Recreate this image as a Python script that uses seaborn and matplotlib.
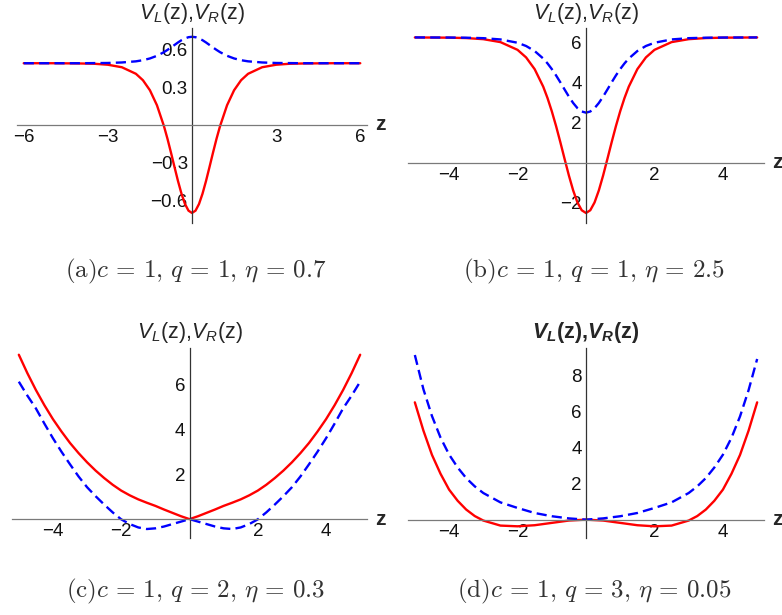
import matplotlib
matplotlib.use("Agg")
import seaborn as sns
import matplotlib.pyplot as plt
from matplotlib.transforms import blended_transform_factory

# ---- panel (a): c=1, q=1, eta=0.7 ----
z_a = [-6, -5, -4, -3.5, -3, -2.5, -2, -1.75, -1.5, -1.25, -1, -0.875, -0.75, -0.625, -0.5, -0.375, -0.25, -0.125,
       0, 0.125, 0.25, 0.375, 0.5, 0.625, 0.75, 0.875, 1, 1.25, 1.5, 1.75, 2, 2.5, 3, 3.5, 4, 5, 6]
vl_a = [0.490, 0.490, 0.488, 0.486, 0.478, 0.458, 0.406, 0.355, 0.275, 0.156, -0.010, -0.110, -0.220, -0.334, -0.446,
        -0.547, -0.629, -0.682, -0.700, -0.682, -0.629, -0.547, -0.446, -0.334, -0.220, -0.110, -0.010, 0.156, 0.275,
        0.355, 0.406, 0.458, 0.478, 0.486, 0.488, 0.490, 0.490]
vr_a = [0.490, 0.490, 0.490, 0.491, 0.492, 0.496, 0.505, 0.514, 0.528, 0.549, 0.578, 0.596, 0.615, 0.635, 0.655,
        0.673, 0.687, 0.697, 0.700, 0.697, 0.687, 0.673, 0.655, 0.635, 0.615, 0.596, 0.578, 0.549, 0.528, 0.514,
        0.505, 0.496, 0.492, 0.491, 0.490, 0.490, 0.490]

# ---- panel (b): c=1, q=1, eta=2.5 ----
z_b = [-5, -4, -3.5, -3, -2.5, -2, -1.75, -1.5, -1.25, -1.125, -1, -0.875, -0.75, -0.625, -0.5, -0.375, -0.25, -0.125,
       0, 0.125, 0.25, 0.375, 0.5, 0.625, 0.75, 0.875, 1, 1.125, 1.25, 1.5, 1.75, 2, 2.5, 3, 3.5, 4, 5]
vl_b = [6.249, 6.238, 6.218, 6.163, 6.017, 5.631, 5.254, 4.669, 3.797, 3.231, 2.575, 1.836, 1.030, 0.191, -0.632,
        -1.376, -1.975, -2.365, -2.500, -2.365, -1.975, -1.376, -0.632, 0.191, 1.030, 1.836, 2.575, 3.231, 3.797,
        4.669, 5.254, 5.631, 6.017, 6.163, 6.218, 6.238, 6.249]
vr_b = [6.250, 6.245, 6.236, 6.213, 6.150, 5.985, 5.823, 5.572, 5.199, 4.956, 4.675, 4.358, 4.013, 3.653, 3.300,
        2.982, 2.725, 2.558, 2.500, 2.558, 2.725, 2.982, 3.300, 3.653, 4.013, 4.358, 4.675, 4.956, 5.199, 5.572,
        5.823, 5.985, 6.150, 6.213, 6.236, 6.245, 6.250]

# ---- panel (c): c=1, q=2, eta=0.3 ----
z_c = [-5, -4.75, -4.5, -4.25, -4, -3.75, -3.5, -3.25, -3, -2.75, -2.5, -2.25, -2, -1.75, -1.5, -1.25, -1, -0.75,
       -0.5, -0.25, 0, 0.25, 0.5, 0.75, 1, 1.25, 1.5, 1.75, 2, 2.25, 2.5, 2.75, 3, 3.25, 3.5, 3.75, 4, 4.25, 4.5,
       4.75, 5]
vl_c = [7.32, 6.50, 5.75, 5.07, 4.45, 3.90, 3.39, 2.94, 2.53, 2.16, 1.83, 1.53, 1.27, 1.06, 0.88, 0.73, 0.59, 0.43,
        0.28, 0.13, 0.0, 0.13, 0.28, 0.43, 0.59, 0.73, 0.88, 1.06, 1.27, 1.53, 1.83, 2.16, 2.53, 2.94, 3.39, 3.90,
        4.45, 5.07, 5.75, 6.50, 7.32]
vr_c = [6.12, 5.50, 4.93, 4.25, 3.60, 3.00, 2.44, 1.90, 1.42, 1.02, 0.65, 0.30, -0.01, -0.22, -0.37, -0.44, -0.41,
        -0.33, -0.22, -0.11, 0.0, -0.11, -0.22, -0.33, -0.41, -0.44, -0.37, -0.22, -0.01, 0.30, 0.65, 1.02, 1.42,
        1.90, 2.44, 3.00, 3.60, 4.25, 4.93, 5.50, 6.12]

# ---- panel (d): c=1, q=3, eta=0.05 ----
z_d = [-5, -4.75, -4.5, -4.25, -4, -3.75, -3.5, -3.25, -3, -2.5, -2, -1.5, -1, -0.5,
       0, 0.5, 1, 1.5, 2, 2.5, 3, 3.25, 3.5, 3.75, 4, 4.25, 4.5, 4.75, 5]
vl_d = [6.52, 4.95, 3.60, 2.55, 1.67, 1.05, 0.56, 0.20, -0.05, -0.33, -0.37, -0.31, -0.18, -0.05,
        0.0, -0.05, -0.18, -0.31, -0.37, -0.33, -0.05, 0.20, 0.56, 1.05, 1.67, 2.55, 3.60, 4.95, 6.52]
vr_d = [9.15, 7.25, 5.76, 4.56, 3.62, 2.90, 2.31, 1.85, 1.48, 0.96, 0.65, 0.37, 0.19, 0.07,
        0.0, 0.07, 0.19, 0.37, 0.65, 0.96, 1.48, 1.85, 2.31, 2.90, 3.61, 4.55, 5.74, 7.20, 8.93]

captions = [r"$\mathrm{(a)}c\,=\,1,\,q\,=\,1,\,\eta\,=\,0.7$",
            r"$\mathrm{(b)}c\,=\,1,\,q\,=\,1,\,\eta\,=\,2.5$",
            r"$\mathrm{(c)}c\,=\,1,\,q\,=\,2,\,\eta\,=\,0.3$",
            r"$\mathrm{(d)}c\,=\,1,\,q\,=\,3,\,\eta\,=\,0.05$"]

sns.set_style("white")
plt.rcParams["font.family"] = ["Liberation Sans", "DejaVu Sans"]
plt.rcParams["mathtext.fontset"] = "custom"
plt.rcParams["mathtext.rm"] = "Liberation Sans"
plt.rcParams["mathtext.it"] = "Liberation Sans:italic"
plt.rcParams["mathtext.bf"] = "Liberation Sans:bold"
plt.rcParams["mathtext.bfit"] = "Liberation Sans:bold:italic"

W, H = 782, 615
fig = plt.figure(figsize=(W / 100, H / 100), dpi=100)


def box(l, t, r, b):
    return [l / W, 1 - b / H, (r - l) / W, (b - t) / H]


def minus(v):
    return str(v).replace("-", "\u2212")


def draw_panel(rect, z, vl, vr, xlim, ylim, xticks, yticks, title, title_y, bold=False):
    ax = fig.add_axes(box(*rect))
    ax.patch.set_alpha(0)
    sns.lineplot(x=z, y=vl, ax=ax, color="#ff0000", lw=1.7, estimator=None, sort=False)
    sns.lineplot(x=z, y=vr, ax=ax, color="#0000ff", lw=1.7, estimator=None, sort=False,
                 linestyle=(0, (4.3, 2.2)))
    ax.set_xlim(*xlim)
    ax.set_ylim(*ylim)
    for s in ["top", "right"]:
        ax.spines[s].set_visible(False)
    ax.spines["left"].set_position(("data", 0))
    ax.spines["bottom"].set_position(("data", 0))
    ax.spines["bottom"].set_color("#7a7a7a")
    ax.spines["left"].set_color("#333333")
    ax.spines["bottom"].set_linewidth(0.9)
    ax.spines["left"].set_linewidth(0.9)
    ax.set_xticks(xticks)
    ax.set_xticklabels([minus(v) for v in xticks])
    ax.set_yticks(yticks)
    ax.set_yticklabels([minus(v) for v in yticks])
    ax.tick_params(axis="x", direction="in", length=3, width=0.8, color="#7a7a7a",
                   labelsize=13.5, pad=3, labelcolor="#111111")
    ax.tick_params(axis="y", direction="in", length=3, width=0.8, color="#333333",
                   labelsize=13.5, pad=3, labelcolor="#111111")
    ax.set_xlabel("")
    ax.set_ylabel("")
    tr = blended_transform_factory(ax.transAxes, ax.transData)
    ax.annotate("z", xy=(1, 0), xycoords=tr, xytext=(6, 0), textcoords="offset points",
                ha="left", va="center", fontsize=15, fontweight="bold", annotation_clip=False)
    x0 = ax.transData.transform((0, 0))[0] / W
    fig.text(x0, 1 - title_y / H, title, ha="center", va="baseline", fontsize=15.5,
             fontweight="bold" if bold else "normal")
    return ax


title_n = r"$\mathit{V}_\mathit{L}$(z),$\mathit{V}_\mathit{R}$(z)"
title_b = r"$\mathbfit{V}_\mathbfit{L}$(z),$\mathbfit{V}_\mathbfit{R}$(z)"

draw_panel((17, 28, 367, 223), z_a, vl_a, vr_a, (-6.24, 6.24), (-0.78, 0.77),
           [-6, -3, 3, 6], [-0.6, -0.3, 0.3, 0.6], title_n, 19)
draw_panel((408, 28, 764, 223), z_b, vl_b, vr_b, (-5.2, 5.2), (-3.0, 6.72),
           [-4, -2, 2, 4], [-2, 2, 4, 6], title_n, 19)
draw_panel((12, 348, 367, 538), z_c, vl_c, vr_c, (-5.2, 5.2), (-0.84, 7.62),
           [-4, -2, 2, 4], [2, 4, 6], title_n, 338)
draw_panel((408, 348, 764, 538), z_d, vl_d, vr_d, (-5.2, 5.2), (-1.02, 9.54),
           [-4, -2, 2, 4], [2, 4, 6, 8], title_b, 338, bold=True)

cap_pos = [(196, 271), (594, 271), (196, 591), (594, 591)]
for (cx, cy), cap in zip(cap_pos, captions):
    fig.text(cx / W, 1 - cy / H, cap, ha="center", va="center", fontsize=18,
             math_fontfamily="cm", color="#333333")

fig.savefig("out.png", dpi=100)
